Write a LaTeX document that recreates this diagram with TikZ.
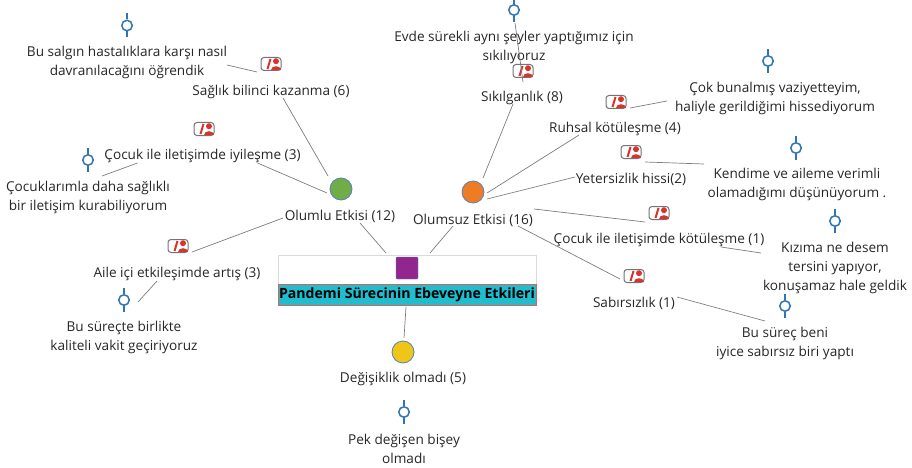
\documentclass[tikz,border=0pt]{standalone}
\usepackage{fontspec}
\setmainfont{Open Sans}
\definecolor{quoteblue}{RGB}{46,117,182}
\definecolor{hubblue}{RGB}{84,130,190}
\definecolor{iconred}{RGB}{214,52,44}
\definecolor{linegray}{RGB}{125,125,125}
\definecolor{hubgreen}{RGB}{112,173,71}
\definecolor{huborange}{RGB}{237,125,37}
\definecolor{hubyellow}{RGB}{238,198,24}
\definecolor{rootpurple}{RGB}{146,38,143}
\definecolor{rootteal}{RGB}{31,189,206}
\definecolor{rootred}{RGB}{224,96,80}
\tikzset{
 every node/.style={font=\fontsize{13.6}{19}\selectfont,text=black!85,inner sep=1pt,align=center},
 link/.style={draw=linegray,line width=0.7pt},
 hub/.style={circle,draw=hubblue,line width=0.8pt,minimum size=22pt,inner sep=0pt},
 quotemark/.style={circle,draw=quoteblue,line width=1.5pt,minimum size=10.5pt,inner sep=0pt},
 personmark/.style={rounded corners=3pt,draw=black!55,fill=white,line width=1pt,minimum width=20pt,minimum height=13pt,inner sep=0pt},
}
\newcommand{\quoteicon}[3]{
 \node[quotemark] (#1) at (#2,#3) {};
 \draw[quoteblue,line width=1.5pt] (#1.north) -- +(0,-6) (#1.south) -- +(0,6);
}
\newcommand{\personicon}[3]{
 \node[personmark] (#1) at (#2,#3) {};
 \fill[iconred] (#2+5,#3-2.8) circle (3pt);
 \fill[iconred] (#2+0,#3+6) .. controls (#2+0,#3+1) and (#2+10,#3+1) .. (#2+10,#3+6) -- cycle;
 \draw[iconred,line width=2pt] (#2-3.5,#3+5) -- (#2-0.5,#3-5);
}
\begin{document}
\begin{tikzpicture}[x=1pt,y=-1pt]
\useasboundingbox (0,0) rectangle (912,468);
% central box
\node[draw=black!15,line width=0.8pt,minimum width=258pt,minimum height=29pt,inner sep=0pt] (top) at (407,269.5) {};
\node[draw=rootred,fill=rootteal,line width=0.8pt,minimum width=258pt,minimum height=21pt,inner sep=0pt,font=\fontsize{14.1}{16}\selectfont\bfseries,text=black] (center) at (407,294.5) {Pandemi Sürecinin Ebeveyne Etkileri};
\node[rounded corners=1pt,draw=hubblue,fill=rootpurple,minimum size=22pt,inner sep=0pt] (square) at (407,268) {};
% hubs
\node[hub,fill=hubgreen] (green) at (341,189) {};
\node[hub,fill=huborange] (orange) at (473,192) {};
\node[hub,fill=hubyellow] (yellow) at (403,352) {};
% labels
\node (olumlu) at (340,216) {Olumlu Etkisi (12)};
\node (olumsuz) at (473,220) {Olumsuz Etkisi (16)};
\node (degisik) at (403,379) {Değişiklik olmadı (5)};
\node (saglik) at (271,92) {Sağlık bilinci kazanma (6)};
\node (iyi) at (202.5,156) {Çocuk ile iletişimde iyileşme (3)};
\node (aile) at (177,274) {Aile içi etkileşimde artış (3)};
\node (sikil) at (522,98) {Sıkılganlık (8)};
\node (ruhsal) at (615,129) {Ruhsal kötüleşme (4)};
\node (yeter) at (631,179) {Yetersizlik hissi(2)};
\node (kotu) at (659,240) {Çocuk ile iletişimde kötüleşme (1)};
\node (sabir) at (634,303) {Sabırsızlık (1)};
% quotes
\node (qsalgin) at (127,62.5) {Bu salgın hastalıklara karşı nasıl\\davranılacağını öğrendik};
\node (qcocuk) at (88,197.5) {Çocuklarımla daha sağlıklı\\bir iletişim kurabiliyorum};
\node (qbirlikte) at (124,337) {Bu süreçte birlikte\\kaliteli vakit geçiriyoruz};
\node (qpek) at (404,449) {Pek değişen bişey\\olmadı};
\node (qevde) at (514,47.5) {Evde sürekli aynı şeyler yaptığımız için\\sıkılıyoruz};
\node (qbunal) at (775,98) {Çok bunalmış vaziyetteyim,\\haliyle gerildiğimi hissediyorum};
\node (qkendi) at (797,184) {Kendime ve aileme verimli\\olamadığımı düşünüyorum .};
\node (qkizim) at (835,268) {Kızıma ne desem\\tersini yapıyor,\\konuşamaz hale geldik};
\node (qsurec) at (785,343) {Bu süreç beni\\iyice sabırsız biri yaptı};
% icons
\quoteicon{m1}{127}{25.5}
\quoteicon{m2}{88}{160}
\quoteicon{m3}{514}{10}
\quoteicon{m4}{768}{61}
\quoteicon{m5}{796}{148}
\quoteicon{m6}{835}{221}
\quoteicon{m7}{124}{300}
\quoteicon{m8}{785}{306}
\quoteicon{m9}{404}{412}
\personicon{p1}{271}{64}
\personicon{p2}{204}{129}
\personicon{p3}{178}{246}
\personicon{p4}{523}{71}
\personicon{p5}{616}{102}
\personicon{p6}{631}{152}
\personicon{p7}{659}{213}
\personicon{p8}{634}{276}
% connectors
\draw[link] ([shift={(100,2.5)}]qsalgin.center) -- ([shift={(-14,8)}]p1.center);
\draw[link] ([shift={(12,6)}]saglik.center) -- ([shift={(-13,-13)}]green.center);
\draw[link] ([shift={(55,7)}]iyi.center) -- ([shift={(-14,4)}]green.center);
\draw[link] ([shift={(-65,7)}]iyi.center) -- ([shift={(14,-21.5)}]qcocuk.center);
\draw[link] ([shift={(-57,2)}]olumlu.center) -- ([shift={(14,6)}]p3.center);
\draw[link] ([shift={(-20,7)}]aile.center) -- ([shift={(14,-35)}]qbirlikte.center);
\draw[link] ([shift={(20,7)}]olumlu.center) -- ([shift={(-21,-16.5)}]top.center);
\draw[link] ([shift={(-20,6)}]olumsuz.center) -- ([shift={(23,-16.5)}]top.center);
\draw[link] ([shift={(-1,12.5)}]center.center) -- ([shift={(1,-14)}]yellow.center);
\draw[link] ([shift={(1,13)}]m3.center) -- ([shift={(1,-16)}]sikil.center);
\draw[link] ([shift={(-9,6)}]sikil.center) -- ([shift={(10,-14)}]orange.center);
\draw[link] ([shift={(-36,6)}]ruhsal.center) -- ([shift={(14,1)}]orange.center);
\draw[link] ([shift={(-56,-2)}]yeter.center) -- ([shift={(14,7)}]orange.center);
\draw[link] ([shift={(61,-11)}]olumsuz.center) -- ([shift={(-14,9)}]p7.center);
\draw[link] ([shift={(45,6)}]olumsuz.center) -- ([shift={(-14,3)}]p8.center);
\draw[link] ([shift={(14,6)}]p5.center) -- ([shift={(-108,3)}]qbunal.center);
\draw[link] ([shift={(14,10)}]p6.center) -- ([shift={(-93,-20)}]qkendi.center);
\draw[link] ([shift={(62,7)}]kotu.center) -- ([shift={(-74,-15)}]qkizim.center);
\draw[link] ([shift={(43,-6)}]sabir.center) -- ([shift={(-20,-22)}]qsurec.center);
\end{tikzpicture}
\end{document}
